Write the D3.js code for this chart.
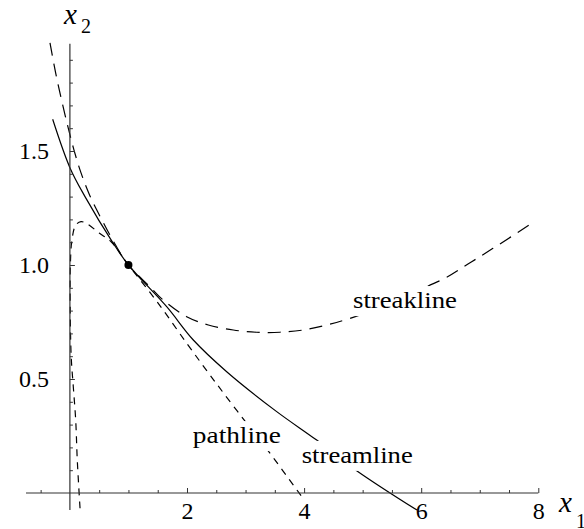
<!DOCTYPE html>
<html>
<head>
<meta charset="utf-8">
<script src="https://cdn.jsdelivr.net/npm/d3@7"></script>
</head>
<body style="margin:0">
<svg id="chart" width="584" height="529" style="font-family:'Liberation Serif'"></svg>
<script>
// curve samples, [x1, x2]
const streamline = [
  [-0.294, 1.639], [0.0, 1.427], [0.258, 1.300], [0.741, 1.095], [1.0, 1.0],
  [1.653, 0.817], [2.108, 0.671], [2.678, 0.532], [3.532, 0.357],
  [4.215, 0.232], [4.898, 0.098], [5.928, -0.075]
];
const pathline = [
  [0.173, -0.067], [0.126, 0.145], [0.099, 0.320], [0.058, 0.466],
  [0.022, 0.598], [0.006, 0.800], [0.008, 1.000], [0.035, 1.110],
  [0.100, 1.175], [0.190, 1.190], [0.300, 1.180], [0.500, 1.140],
  [0.700, 1.103], [1.0, 1.0], [1.500, 0.835], [2.000, 0.655],
  [2.400, 0.515], [2.850, 0.362], [3.400, 0.180], [3.960, -0.016]
];
const streakline = [
  [-0.340, 1.974], [-0.246, 1.846], [-0.143, 1.724], [-0.041, 1.614],
  [0.070, 1.504], [0.190, 1.404], [0.343, 1.303], [0.548, 1.197],
  [0.770, 1.092], [1.0, 1.0], [1.369, 0.904], [1.595, 0.846],
  [1.995, 0.773], [2.364, 0.737], [2.791, 0.715], [3.190, 0.705],
  [3.588, 0.705], [3.986, 0.715], [4.386, 0.737], [4.784, 0.766],
  [5.569, 0.842], [6.094, 0.905], [6.436, 0.946], [6.799, 1.004],
  [7.226, 1.073], [7.909, 1.186]
];
const markPoint = [1.0, 1.0];

const xMajor = [2, 4, 6, 8];
const xMinor = [-0.5, 0.5, 1, 1.5, 2.5, 3, 3.5, 4.5, 5, 5.5, 6.5, 7, 7.5];
const yMajor = [0.5, 1.0, 1.5];
const yMinor = [0.1, 0.2, 0.3, 0.4, 0.6, 0.7, 0.8, 0.9, 1.1, 1.2, 1.3, 1.4, 1.6, 1.7, 1.8, 1.9];
const xTickLabels = ['2', '4', '6', '8'];
const yTickLabels = ['0.5', '1.0', '1.5'];

const svg = d3.select('#chart');

const x = d3.scaleLinear().domain([0, 8]).range([69.9, 538.3]);
const y = d3.scaleLinear().domain([0, 1]).range([493, 265]);

const line = d3.line()
  .curve(d3.curveCatmullRom.alpha(0.5))
  .x(d => x(d[0]))
  .y(d => y(d[1]));

// curves
svg.append('path').attr('d', line(streamline))
  .attr('fill', 'none').attr('stroke', '#000').attr('stroke-width', 1.2);
svg.append('path').attr('d', line(pathline))
  .attr('fill', 'none').attr('stroke', '#000').attr('stroke-width', 1.2)
  .attr('stroke-dasharray', '7,6');
svg.append('path').attr('d', line(streakline))
  .attr('fill', 'none').attr('stroke', '#000').attr('stroke-width', 1.2)
  .attr('stroke-dasharray', '13,8');

// axes, drawn through the origin
const axisColor = '#333';
svg.append('line')
  .attr('x1', x(-0.75)).attr('x2', x(8))
  .attr('y1', y(0)).attr('y2', y(0))
  .attr('stroke', axisColor).attr('stroke-width', 1.2);
svg.append('line')
  .attr('x1', x(0)).attr('x2', x(0))
  .attr('y1', y(1.97)).attr('y2', y(-0.075))
  .attr('stroke', axisColor).attr('stroke-width', 1.2);

// tick marks point inward (up / right); labels sit outside
const xAxisMinor = d3.axisBottom(x).tickValues(xMinor).tickSize(-3).tickSizeOuter(0).tickFormat('');
const xAxisMajor = d3.axisBottom(x).tickValues(xMajor).tickSize(-5).tickSizeOuter(0)
  .tickPadding(9).tickFormat((d, i) => xTickLabels[i]);
const yAxisMinor = d3.axisLeft(y).tickValues(yMinor).tickSize(-3).tickSizeOuter(0).tickFormat('');
const yAxisMajor = d3.axisLeft(y).tickValues(yMajor).tickSize(-5).tickSizeOuter(0)
  .tickPadding(21).tickFormat((d, i) => yTickLabels[i]);

[xAxisMinor, xAxisMajor].forEach(ax => {
  svg.append('g').attr('transform', 'translate(0,' + y(0) + ')').call(ax)
    .attr('font-family', null).attr('font-size', null);
});
[yAxisMinor, yAxisMajor].forEach(ax => {
  svg.append('g').attr('transform', 'translate(' + x(0) + ',0)').call(ax)
    .attr('font-family', null).attr('font-size', null);
});
svg.selectAll('.domain').remove();
svg.selectAll('.tick line').attr('stroke', axisColor).attr('stroke-width', 1);
svg.selectAll('.tick text')
  .attr('fill', '#000')
  .attr('style', "font-family:'Liberation Serif';font-size:24px");

// point where all three curves meet
svg.append('circle')
  .attr('cx', x(markPoint[0])).attr('cy', y(markPoint[1]))
  .attr('r', 4).attr('fill', '#000');

// curve labels, with a white patch behind so the curves break around them
const labels = [
  {text: 'pathline', x: 2.10, y: 0.219, len: 88},
  {text: 'streamline', x: 3.96, y: 0.132, len: 111},
  {text: 'streakline', x: 4.835, y: 0.811, len: 104}
];
labels.forEach(l => {
  const px = x(l.x), py = y(l.y);
  svg.append('rect')
    .attr('x', px - 5).attr('y', py - 22)
    .attr('width', l.len + 10).attr('height', 30)
    .attr('fill', '#fff');
  svg.append('text')
    .attr('x', px).attr('y', py)
    .attr('style', "font-family:'Liberation Serif';font-size:24px")
    .attr('textLength', l.len).attr('lengthAdjust', 'spacingAndGlyphs')
    .text(l.text);
});

// axis names
const x2Label = svg.append('text').attr('x', 64).attr('y', 24)
  .attr('style', "font-family:'Liberation Serif'");
x2Label.append('tspan').attr('style', 'font-style:italic;font-size:29px').text('x');
x2Label.append('tspan').attr('dx', 4).attr('dy', 9).attr('style', 'font-size:20px').text('2');

const x1Label = svg.append('text').attr('x', 559).attr('y', 512)
  .attr('style', "font-family:'Liberation Serif'");
x1Label.append('tspan').attr('style', 'font-style:italic;font-size:29px').text('x');
x1Label.append('tspan').attr('dx', 4).attr('dy', 16).attr('style', 'font-size:20px').text('1');
</script>
</body>
</html>
